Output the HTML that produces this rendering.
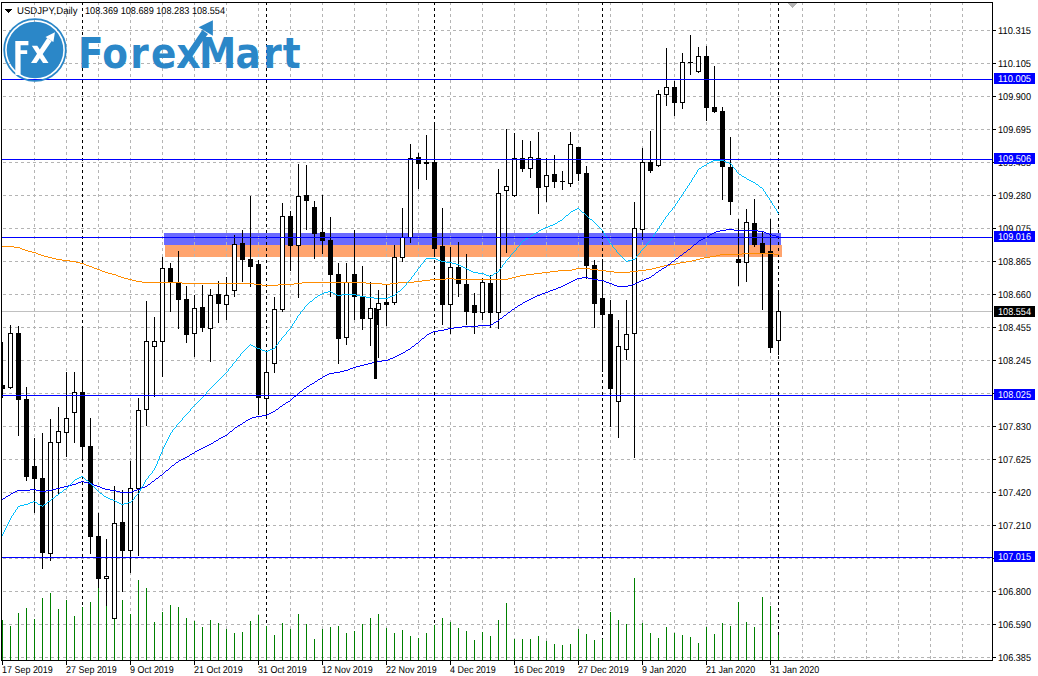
<!DOCTYPE html>
<html><head><meta charset="utf-8"><title>USDJPY Daily</title>
<style>html,body{margin:0;padding:0;background:#fff;overflow:hidden}svg{display:block}</style>
</head><body>
<svg width="1038" height="676" viewBox="0 0 1038 676" shape-rendering="crispEdges">
<rect x="0" y="0" width="1038" height="676" fill="#fff"/>
<rect x="164" y="233" width="617" height="12" fill="#6B6BFF"/>
<rect x="165" y="245" width="617" height="12" fill="#FFA46E"/>
<line x1="3" y1="30.5" x2="991" y2="30.5" stroke="#B4B4B4" stroke-dasharray="3 3"/>
<line x1="3" y1="63.5" x2="991" y2="63.5" stroke="#B4B4B4" stroke-dasharray="3 3"/>
<line x1="3" y1="96.5" x2="991" y2="96.5" stroke="#B4B4B4" stroke-dasharray="3 3"/>
<line x1="3" y1="129.5" x2="991" y2="129.5" stroke="#B4B4B4" stroke-dasharray="3 3"/>
<line x1="3" y1="162.5" x2="991" y2="162.5" stroke="#B4B4B4" stroke-dasharray="3 3"/>
<line x1="3" y1="195.5" x2="991" y2="195.5" stroke="#B4B4B4" stroke-dasharray="3 3"/>
<line x1="3" y1="228.5" x2="991" y2="228.5" stroke="#B4B4B4" stroke-dasharray="3 3"/>
<line x1="3" y1="261.5" x2="991" y2="261.5" stroke="#B4B4B4" stroke-dasharray="3 3"/>
<line x1="3" y1="294.5" x2="991" y2="294.5" stroke="#B4B4B4" stroke-dasharray="3 3"/>
<line x1="3" y1="327.5" x2="991" y2="327.5" stroke="#B4B4B4" stroke-dasharray="3 3"/>
<line x1="3" y1="360.5" x2="991" y2="360.5" stroke="#B4B4B4" stroke-dasharray="3 3"/>
<line x1="3" y1="393.5" x2="991" y2="393.5" stroke="#B4B4B4" stroke-dasharray="3 3"/>
<line x1="3" y1="426.5" x2="991" y2="426.5" stroke="#B4B4B4" stroke-dasharray="3 3"/>
<line x1="3" y1="459.5" x2="991" y2="459.5" stroke="#B4B4B4" stroke-dasharray="3 3"/>
<line x1="3" y1="492.5" x2="991" y2="492.5" stroke="#B4B4B4" stroke-dasharray="3 3"/>
<line x1="3" y1="525.5" x2="991" y2="525.5" stroke="#B4B4B4" stroke-dasharray="3 3"/>
<line x1="3" y1="558.5" x2="991" y2="558.5" stroke="#B4B4B4" stroke-dasharray="3 3"/>
<line x1="3" y1="591.5" x2="991" y2="591.5" stroke="#B4B4B4" stroke-dasharray="3 3"/>
<line x1="3" y1="624.5" x2="991" y2="624.5" stroke="#B4B4B4" stroke-dasharray="3 3"/>
<line x1="3" y1="657.5" x2="991" y2="657.5" stroke="#B4B4B4" stroke-dasharray="3 3"/>
<line x1="34.5" y1="2" x2="34.5" y2="660" stroke="#B4B4B4" stroke-dasharray="3 3"/>
<line x1="66.5" y1="2" x2="66.5" y2="660" stroke="#B4B4B4" stroke-dasharray="3 3"/>
<line x1="98.5" y1="2" x2="98.5" y2="660" stroke="#B4B4B4" stroke-dasharray="3 3"/>
<line x1="130.5" y1="2" x2="130.5" y2="660" stroke="#B4B4B4" stroke-dasharray="3 3"/>
<line x1="162.5" y1="2" x2="162.5" y2="660" stroke="#B4B4B4" stroke-dasharray="3 3"/>
<line x1="194.5" y1="2" x2="194.5" y2="660" stroke="#B4B4B4" stroke-dasharray="3 3"/>
<line x1="226.5" y1="2" x2="226.5" y2="660" stroke="#B4B4B4" stroke-dasharray="3 3"/>
<line x1="258.5" y1="2" x2="258.5" y2="660" stroke="#B4B4B4" stroke-dasharray="3 3"/>
<line x1="290.5" y1="2" x2="290.5" y2="660" stroke="#B4B4B4" stroke-dasharray="3 3"/>
<line x1="322.5" y1="2" x2="322.5" y2="660" stroke="#B4B4B4" stroke-dasharray="3 3"/>
<line x1="354.5" y1="2" x2="354.5" y2="660" stroke="#B4B4B4" stroke-dasharray="3 3"/>
<line x1="386.5" y1="2" x2="386.5" y2="660" stroke="#B4B4B4" stroke-dasharray="3 3"/>
<line x1="418.5" y1="2" x2="418.5" y2="660" stroke="#B4B4B4" stroke-dasharray="3 3"/>
<line x1="450.5" y1="2" x2="450.5" y2="660" stroke="#B4B4B4" stroke-dasharray="3 3"/>
<line x1="482.5" y1="2" x2="482.5" y2="660" stroke="#B4B4B4" stroke-dasharray="3 3"/>
<line x1="514.5" y1="2" x2="514.5" y2="660" stroke="#B4B4B4" stroke-dasharray="3 3"/>
<line x1="546.5" y1="2" x2="546.5" y2="660" stroke="#B4B4B4" stroke-dasharray="3 3"/>
<line x1="578.5" y1="2" x2="578.5" y2="660" stroke="#B4B4B4" stroke-dasharray="3 3"/>
<line x1="610.5" y1="2" x2="610.5" y2="660" stroke="#B4B4B4" stroke-dasharray="3 3"/>
<line x1="642.5" y1="2" x2="642.5" y2="660" stroke="#B4B4B4" stroke-dasharray="3 3"/>
<line x1="674.5" y1="2" x2="674.5" y2="660" stroke="#B4B4B4" stroke-dasharray="3 3"/>
<line x1="706.5" y1="2" x2="706.5" y2="660" stroke="#B4B4B4" stroke-dasharray="3 3"/>
<line x1="738.5" y1="2" x2="738.5" y2="660" stroke="#B4B4B4" stroke-dasharray="3 3"/>
<line x1="770.5" y1="2" x2="770.5" y2="660" stroke="#B4B4B4" stroke-dasharray="3 3"/>
<line x1="802.5" y1="2" x2="802.5" y2="660" stroke="#B4B4B4" stroke-dasharray="3 3"/>
<line x1="834.5" y1="2" x2="834.5" y2="660" stroke="#B4B4B4" stroke-dasharray="3 3"/>
<line x1="866.5" y1="2" x2="866.5" y2="660" stroke="#B4B4B4" stroke-dasharray="3 3"/>
<line x1="898.5" y1="2" x2="898.5" y2="660" stroke="#B4B4B4" stroke-dasharray="3 3"/>
<line x1="930.5" y1="2" x2="930.5" y2="660" stroke="#B4B4B4" stroke-dasharray="3 3"/>
<line x1="962.5" y1="2" x2="962.5" y2="660" stroke="#B4B4B4" stroke-dasharray="3 3"/>
<line x1="82.5" y1="2" x2="82.5" y2="660" stroke="#000" stroke-dasharray="3 3"/>
<line x1="266.5" y1="2" x2="266.5" y2="660" stroke="#000" stroke-dasharray="3 3"/>
<line x1="434.5" y1="2" x2="434.5" y2="660" stroke="#000" stroke-dasharray="3 3"/>
<line x1="602.5" y1="2" x2="602.5" y2="660" stroke="#000" stroke-dasharray="3 3"/>
<line x1="778.5" y1="2" x2="778.5" y2="660" stroke="#000" stroke-dasharray="3 3"/>
<rect x="2" y="311" width="990" height="1" fill="#C0C0C0"/>
<rect x="2" y="620" width="1" height="40" fill="#008000"/>
<rect x="10" y="626" width="1" height="34" fill="#008000"/>
<rect x="18" y="613" width="1" height="47" fill="#008000"/>
<rect x="26" y="608" width="1" height="52" fill="#008000"/>
<rect x="34" y="619" width="1" height="41" fill="#008000"/>
<rect x="42" y="598" width="1" height="62" fill="#008000"/>
<rect x="50" y="593" width="1" height="67" fill="#008000"/>
<rect x="58" y="609" width="1" height="51" fill="#008000"/>
<rect x="66" y="600" width="1" height="60" fill="#008000"/>
<rect x="74" y="616" width="1" height="44" fill="#008000"/>
<rect x="82" y="607" width="1" height="53" fill="#008000"/>
<rect x="90" y="602" width="1" height="58" fill="#008000"/>
<rect x="98" y="587" width="1" height="73" fill="#008000"/>
<rect x="106" y="606" width="1" height="54" fill="#008000"/>
<rect x="114" y="619" width="1" height="41" fill="#008000"/>
<rect x="122" y="600" width="1" height="60" fill="#008000"/>
<rect x="130" y="614" width="1" height="46" fill="#008000"/>
<rect x="138" y="580" width="1" height="80" fill="#008000"/>
<rect x="146" y="588" width="1" height="72" fill="#008000"/>
<rect x="154" y="622" width="1" height="38" fill="#008000"/>
<rect x="162" y="612" width="1" height="48" fill="#008000"/>
<rect x="170" y="605" width="1" height="55" fill="#008000"/>
<rect x="178" y="607" width="1" height="53" fill="#008000"/>
<rect x="186" y="618" width="1" height="42" fill="#008000"/>
<rect x="194" y="621" width="1" height="39" fill="#008000"/>
<rect x="202" y="627" width="1" height="33" fill="#008000"/>
<rect x="210" y="620" width="1" height="40" fill="#008000"/>
<rect x="218" y="623" width="1" height="37" fill="#008000"/>
<rect x="226" y="629" width="1" height="31" fill="#008000"/>
<rect x="234" y="633" width="1" height="27" fill="#008000"/>
<rect x="242" y="632" width="1" height="28" fill="#008000"/>
<rect x="250" y="621" width="1" height="39" fill="#008000"/>
<rect x="258" y="615" width="1" height="45" fill="#008000"/>
<rect x="266" y="626" width="1" height="34" fill="#008000"/>
<rect x="274" y="635" width="1" height="25" fill="#008000"/>
<rect x="282" y="623" width="1" height="37" fill="#008000"/>
<rect x="290" y="629" width="1" height="31" fill="#008000"/>
<rect x="298" y="614" width="1" height="46" fill="#008000"/>
<rect x="306" y="624" width="1" height="36" fill="#008000"/>
<rect x="314" y="639" width="1" height="21" fill="#008000"/>
<rect x="322" y="629" width="1" height="31" fill="#008000"/>
<rect x="330" y="627" width="1" height="33" fill="#008000"/>
<rect x="338" y="626" width="1" height="34" fill="#008000"/>
<rect x="346" y="633" width="1" height="27" fill="#008000"/>
<rect x="354" y="631" width="1" height="29" fill="#008000"/>
<rect x="362" y="624" width="1" height="36" fill="#008000"/>
<rect x="370" y="618" width="1" height="42" fill="#008000"/>
<rect x="378" y="614" width="1" height="46" fill="#008000"/>
<rect x="386" y="628" width="1" height="32" fill="#008000"/>
<rect x="394" y="633" width="1" height="27" fill="#008000"/>
<rect x="402" y="630" width="1" height="30" fill="#008000"/>
<rect x="410" y="636" width="1" height="24" fill="#008000"/>
<rect x="418" y="638" width="1" height="22" fill="#008000"/>
<rect x="426" y="633" width="1" height="27" fill="#008000"/>
<rect x="434" y="625" width="1" height="35" fill="#008000"/>
<rect x="442" y="618" width="1" height="42" fill="#008000"/>
<rect x="450" y="622" width="1" height="38" fill="#008000"/>
<rect x="458" y="628" width="1" height="32" fill="#008000"/>
<rect x="466" y="631" width="1" height="29" fill="#008000"/>
<rect x="474" y="640" width="1" height="20" fill="#008000"/>
<rect x="482" y="632" width="1" height="28" fill="#008000"/>
<rect x="490" y="636" width="1" height="24" fill="#008000"/>
<rect x="498" y="620" width="1" height="40" fill="#008000"/>
<rect x="506" y="603" width="1" height="57" fill="#008000"/>
<rect x="514" y="639" width="1" height="21" fill="#008000"/>
<rect x="522" y="639" width="1" height="21" fill="#008000"/>
<rect x="530" y="639" width="1" height="21" fill="#008000"/>
<rect x="538" y="636" width="1" height="24" fill="#008000"/>
<rect x="546" y="641" width="1" height="19" fill="#008000"/>
<rect x="554" y="644" width="1" height="16" fill="#008000"/>
<rect x="562" y="645" width="1" height="15" fill="#008000"/>
<rect x="570" y="644" width="1" height="16" fill="#008000"/>
<rect x="578" y="629" width="1" height="31" fill="#008000"/>
<rect x="586" y="634" width="1" height="26" fill="#008000"/>
<rect x="594" y="640" width="1" height="20" fill="#008000"/>
<rect x="602" y="639" width="1" height="21" fill="#008000"/>
<rect x="610" y="612" width="1" height="48" fill="#008000"/>
<rect x="618" y="620" width="1" height="40" fill="#008000"/>
<rect x="626" y="624" width="1" height="36" fill="#008000"/>
<rect x="634" y="578" width="1" height="82" fill="#008000"/>
<rect x="642" y="623" width="1" height="37" fill="#008000"/>
<rect x="650" y="633" width="1" height="27" fill="#008000"/>
<rect x="658" y="638" width="1" height="22" fill="#008000"/>
<rect x="666" y="627" width="1" height="33" fill="#008000"/>
<rect x="674" y="633" width="1" height="27" fill="#008000"/>
<rect x="682" y="635" width="1" height="25" fill="#008000"/>
<rect x="690" y="637" width="1" height="23" fill="#008000"/>
<rect x="698" y="643" width="1" height="17" fill="#008000"/>
<rect x="706" y="627" width="1" height="33" fill="#008000"/>
<rect x="714" y="634" width="1" height="26" fill="#008000"/>
<rect x="722" y="623" width="1" height="37" fill="#008000"/>
<rect x="730" y="626" width="1" height="34" fill="#008000"/>
<rect x="738" y="602" width="1" height="58" fill="#008000"/>
<rect x="746" y="622" width="1" height="38" fill="#008000"/>
<rect x="754" y="627" width="1" height="33" fill="#008000"/>
<rect x="762" y="597" width="1" height="63" fill="#008000"/>
<rect x="770" y="606" width="1" height="54" fill="#008000"/>
<rect x="778" y="635" width="1" height="25" fill="#008000"/>
<rect x="2" y="342" width="1" height="56" fill="#000"/>
<rect x="0" y="385" width="5" height="4" fill="#000"/>
<rect x="10" y="325" width="1" height="64" fill="#000"/>
<rect x="8" y="333" width="5" height="55" fill="#000"/>
<rect x="9" y="334" width="3" height="53" fill="#fff"/>
<rect x="18" y="326" width="1" height="110" fill="#000"/>
<rect x="16" y="333" width="5" height="67" fill="#000"/>
<rect x="26" y="387" width="1" height="94" fill="#000"/>
<rect x="24" y="399" width="5" height="78" fill="#000"/>
<rect x="34" y="438" width="1" height="75" fill="#000"/>
<rect x="32" y="466" width="5" height="13" fill="#000"/>
<rect x="42" y="433" width="1" height="136" fill="#000"/>
<rect x="40" y="478" width="5" height="75" fill="#000"/>
<rect x="50" y="419" width="1" height="142" fill="#000"/>
<rect x="48" y="442" width="5" height="112" fill="#000"/>
<rect x="49" y="443" width="3" height="110" fill="#fff"/>
<rect x="58" y="407" width="1" height="87" fill="#000"/>
<rect x="56" y="431" width="5" height="12" fill="#000"/>
<rect x="57" y="432" width="3" height="10" fill="#fff"/>
<rect x="66" y="372" width="1" height="85" fill="#000"/>
<rect x="64" y="418" width="5" height="15" fill="#000"/>
<rect x="65" y="419" width="3" height="13" fill="#fff"/>
<rect x="74" y="372" width="1" height="71" fill="#000"/>
<rect x="72" y="392" width="5" height="21" fill="#000"/>
<rect x="73" y="393" width="3" height="19" fill="#fff"/>
<rect x="82" y="326" width="1" height="135" fill="#000"/>
<rect x="80" y="392" width="5" height="55" fill="#000"/>
<rect x="90" y="418" width="1" height="136" fill="#000"/>
<rect x="88" y="446" width="5" height="91" fill="#000"/>
<rect x="98" y="513" width="1" height="75" fill="#000"/>
<rect x="96" y="536" width="5" height="43" fill="#000"/>
<rect x="106" y="539" width="1" height="67" fill="#000"/>
<rect x="104" y="576" width="5" height="3" fill="#000"/>
<rect x="105" y="577" width="3" height="1" fill="#fff"/>
<rect x="114" y="486" width="1" height="133" fill="#000"/>
<rect x="112" y="523" width="5" height="96" fill="#000"/>
<rect x="113" y="524" width="3" height="94" fill="#fff"/>
<rect x="122" y="490" width="1" height="102" fill="#000"/>
<rect x="120" y="522" width="5" height="29" fill="#000"/>
<rect x="130" y="461" width="1" height="112" fill="#000"/>
<rect x="128" y="488" width="5" height="63" fill="#000"/>
<rect x="129" y="489" width="3" height="61" fill="#fff"/>
<rect x="138" y="398" width="1" height="158" fill="#000"/>
<rect x="136" y="410" width="5" height="79" fill="#000"/>
<rect x="137" y="411" width="3" height="77" fill="#fff"/>
<rect x="146" y="301" width="1" height="125" fill="#000"/>
<rect x="144" y="341" width="5" height="69" fill="#000"/>
<rect x="145" y="342" width="3" height="67" fill="#fff"/>
<rect x="154" y="317" width="1" height="80" fill="#000"/>
<rect x="152" y="341" width="5" height="6" fill="#000"/>
<rect x="153" y="342" width="3" height="4" fill="#fff"/>
<rect x="162" y="257" width="1" height="120" fill="#000"/>
<rect x="160" y="268" width="5" height="74" fill="#000"/>
<rect x="161" y="269" width="3" height="72" fill="#fff"/>
<rect x="170" y="263" width="1" height="49" fill="#000"/>
<rect x="168" y="268" width="5" height="15" fill="#000"/>
<rect x="178" y="251" width="1" height="78" fill="#000"/>
<rect x="176" y="283" width="5" height="17" fill="#000"/>
<rect x="186" y="286" width="1" height="57" fill="#000"/>
<rect x="184" y="299" width="5" height="36" fill="#000"/>
<rect x="194" y="295" width="1" height="62" fill="#000"/>
<rect x="192" y="308" width="5" height="26" fill="#000"/>
<rect x="193" y="309" width="3" height="24" fill="#fff"/>
<rect x="202" y="285" width="1" height="47" fill="#000"/>
<rect x="200" y="307" width="5" height="21" fill="#000"/>
<rect x="210" y="289" width="1" height="73" fill="#000"/>
<rect x="208" y="295" width="5" height="34" fill="#000"/>
<rect x="209" y="296" width="3" height="32" fill="#fff"/>
<rect x="218" y="281" width="1" height="42" fill="#000"/>
<rect x="216" y="294" width="5" height="10" fill="#000"/>
<rect x="226" y="277" width="1" height="43" fill="#000"/>
<rect x="224" y="295" width="5" height="10" fill="#000"/>
<rect x="225" y="296" width="3" height="8" fill="#fff"/>
<rect x="234" y="235" width="1" height="62" fill="#000"/>
<rect x="232" y="244" width="5" height="47" fill="#000"/>
<rect x="233" y="245" width="3" height="45" fill="#fff"/>
<rect x="242" y="230" width="1" height="52" fill="#000"/>
<rect x="240" y="243" width="5" height="17" fill="#000"/>
<rect x="250" y="196" width="1" height="91" fill="#000"/>
<rect x="248" y="259" width="5" height="8" fill="#000"/>
<rect x="258" y="260" width="1" height="155" fill="#000"/>
<rect x="256" y="264" width="5" height="134" fill="#000"/>
<rect x="266" y="351" width="1" height="66" fill="#000"/>
<rect x="264" y="372" width="5" height="27" fill="#000"/>
<rect x="265" y="373" width="3" height="25" fill="#fff"/>
<rect x="274" y="297" width="1" height="76" fill="#000"/>
<rect x="272" y="309" width="5" height="55" fill="#000"/>
<rect x="273" y="310" width="3" height="53" fill="#fff"/>
<rect x="282" y="203" width="1" height="109" fill="#000"/>
<rect x="280" y="216" width="5" height="94" fill="#000"/>
<rect x="281" y="217" width="3" height="92" fill="#fff"/>
<rect x="290" y="211" width="1" height="60" fill="#000"/>
<rect x="288" y="216" width="5" height="30" fill="#000"/>
<rect x="298" y="164" width="1" height="134" fill="#000"/>
<rect x="296" y="196" width="5" height="50" fill="#000"/>
<rect x="297" y="197" width="3" height="48" fill="#fff"/>
<rect x="306" y="165" width="1" height="65" fill="#000"/>
<rect x="304" y="195" width="5" height="6" fill="#000"/>
<rect x="314" y="201" width="1" height="58" fill="#000"/>
<rect x="312" y="207" width="5" height="27" fill="#000"/>
<rect x="322" y="195" width="1" height="59" fill="#000"/>
<rect x="320" y="232" width="5" height="9" fill="#000"/>
<rect x="330" y="217" width="1" height="80" fill="#000"/>
<rect x="328" y="240" width="5" height="35" fill="#000"/>
<rect x="338" y="263" width="1" height="101" fill="#000"/>
<rect x="336" y="274" width="5" height="65" fill="#000"/>
<rect x="346" y="263" width="1" height="82" fill="#000"/>
<rect x="344" y="282" width="5" height="56" fill="#000"/>
<rect x="345" y="283" width="3" height="54" fill="#fff"/>
<rect x="354" y="230" width="1" height="90" fill="#000"/>
<rect x="352" y="274" width="5" height="23" fill="#000"/>
<rect x="362" y="266" width="1" height="64" fill="#000"/>
<rect x="360" y="296" width="5" height="23" fill="#000"/>
<rect x="370" y="282" width="1" height="64" fill="#000"/>
<rect x="368" y="308" width="5" height="11" fill="#000"/>
<rect x="369" y="309" width="3" height="9" fill="#fff"/>
<rect x="378" y="290" width="1" height="68" fill="#000"/>
<rect x="376" y="303" width="5" height="7" fill="#000"/>
<rect x="377" y="304" width="3" height="5" fill="#fff"/>
<rect x="386" y="284" width="1" height="42" fill="#000"/>
<rect x="384" y="302" width="5" height="3" fill="#000"/>
<rect x="394" y="245" width="1" height="60" fill="#000"/>
<rect x="392" y="257" width="5" height="46" fill="#000"/>
<rect x="393" y="258" width="3" height="44" fill="#fff"/>
<rect x="402" y="208" width="1" height="54" fill="#000"/>
<rect x="400" y="237" width="5" height="21" fill="#000"/>
<rect x="401" y="238" width="3" height="19" fill="#fff"/>
<rect x="410" y="144" width="1" height="99" fill="#000"/>
<rect x="408" y="158" width="5" height="80" fill="#000"/>
<rect x="409" y="159" width="3" height="78" fill="#fff"/>
<rect x="418" y="153" width="1" height="36" fill="#000"/>
<rect x="416" y="157" width="5" height="7" fill="#000"/>
<rect x="426" y="135" width="1" height="45" fill="#000"/>
<rect x="424" y="162" width="5" height="2" fill="#000"/>
<rect x="434" y="122" width="1" height="134" fill="#000"/>
<rect x="432" y="162" width="5" height="87" fill="#000"/>
<rect x="442" y="208" width="1" height="117" fill="#000"/>
<rect x="440" y="246" width="5" height="59" fill="#000"/>
<rect x="450" y="247" width="1" height="87" fill="#000"/>
<rect x="448" y="267" width="5" height="38" fill="#000"/>
<rect x="449" y="268" width="3" height="36" fill="#fff"/>
<rect x="458" y="242" width="1" height="55" fill="#000"/>
<rect x="456" y="267" width="5" height="17" fill="#000"/>
<rect x="466" y="254" width="1" height="71" fill="#000"/>
<rect x="464" y="284" width="5" height="28" fill="#000"/>
<rect x="474" y="293" width="1" height="41" fill="#000"/>
<rect x="472" y="305" width="5" height="8" fill="#000"/>
<rect x="482" y="278" width="1" height="42" fill="#000"/>
<rect x="480" y="282" width="5" height="31" fill="#000"/>
<rect x="481" y="283" width="3" height="29" fill="#fff"/>
<rect x="490" y="275" width="1" height="53" fill="#000"/>
<rect x="488" y="283" width="5" height="30" fill="#000"/>
<rect x="498" y="169" width="1" height="160" fill="#000"/>
<rect x="496" y="193" width="5" height="120" fill="#000"/>
<rect x="497" y="194" width="3" height="118" fill="#fff"/>
<rect x="506" y="129" width="1" height="124" fill="#000"/>
<rect x="504" y="186" width="5" height="5" fill="#000"/>
<rect x="505" y="187" width="3" height="3" fill="#fff"/>
<rect x="514" y="133" width="1" height="64" fill="#000"/>
<rect x="512" y="158" width="5" height="38" fill="#000"/>
<rect x="513" y="159" width="3" height="36" fill="#fff"/>
<rect x="522" y="140" width="1" height="32" fill="#000"/>
<rect x="520" y="158" width="5" height="11" fill="#000"/>
<rect x="530" y="141" width="1" height="37" fill="#000"/>
<rect x="528" y="157" width="5" height="12" fill="#000"/>
<rect x="529" y="158" width="3" height="10" fill="#fff"/>
<rect x="538" y="132" width="1" height="82" fill="#000"/>
<rect x="536" y="158" width="5" height="30" fill="#000"/>
<rect x="546" y="158" width="1" height="44" fill="#000"/>
<rect x="544" y="175" width="5" height="12" fill="#000"/>
<rect x="545" y="176" width="3" height="10" fill="#fff"/>
<rect x="554" y="155" width="1" height="33" fill="#000"/>
<rect x="552" y="174" width="5" height="8" fill="#000"/>
<rect x="562" y="171" width="1" height="19" fill="#000"/>
<rect x="560" y="181" width="5" height="1" fill="#000"/>
<rect x="570" y="132" width="1" height="55" fill="#000"/>
<rect x="568" y="144" width="5" height="40" fill="#000"/>
<rect x="569" y="145" width="3" height="38" fill="#fff"/>
<rect x="578" y="147" width="1" height="34" fill="#000"/>
<rect x="576" y="147" width="5" height="27" fill="#000"/>
<rect x="586" y="166" width="1" height="113" fill="#000"/>
<rect x="584" y="173" width="5" height="93" fill="#000"/>
<rect x="594" y="260" width="1" height="68" fill="#000"/>
<rect x="592" y="265" width="5" height="39" fill="#000"/>
<rect x="602" y="259" width="1" height="113" fill="#000"/>
<rect x="600" y="298" width="5" height="17" fill="#000"/>
<rect x="610" y="300" width="1" height="127" fill="#000"/>
<rect x="608" y="314" width="5" height="75" fill="#000"/>
<rect x="618" y="320" width="1" height="118" fill="#000"/>
<rect x="616" y="346" width="5" height="56" fill="#000"/>
<rect x="617" y="347" width="3" height="54" fill="#fff"/>
<rect x="626" y="300" width="1" height="60" fill="#000"/>
<rect x="624" y="334" width="5" height="16" fill="#000"/>
<rect x="625" y="335" width="3" height="14" fill="#fff"/>
<rect x="634" y="202" width="1" height="256" fill="#000"/>
<rect x="632" y="228" width="5" height="106" fill="#000"/>
<rect x="633" y="229" width="3" height="104" fill="#fff"/>
<rect x="642" y="148" width="1" height="92" fill="#000"/>
<rect x="640" y="162" width="5" height="68" fill="#000"/>
<rect x="641" y="163" width="3" height="66" fill="#fff"/>
<rect x="650" y="131" width="1" height="42" fill="#000"/>
<rect x="648" y="162" width="5" height="9" fill="#000"/>
<rect x="658" y="90" width="1" height="77" fill="#000"/>
<rect x="656" y="94" width="5" height="72" fill="#000"/>
<rect x="657" y="95" width="3" height="70" fill="#fff"/>
<rect x="666" y="48" width="1" height="58" fill="#000"/>
<rect x="664" y="87" width="5" height="8" fill="#000"/>
<rect x="665" y="88" width="3" height="6" fill="#fff"/>
<rect x="674" y="81" width="1" height="35" fill="#000"/>
<rect x="672" y="87" width="5" height="16" fill="#000"/>
<rect x="682" y="53" width="1" height="56" fill="#000"/>
<rect x="680" y="62" width="5" height="41" fill="#000"/>
<rect x="681" y="63" width="3" height="39" fill="#fff"/>
<rect x="690" y="35" width="1" height="40" fill="#000"/>
<rect x="688" y="62" width="5" height="1" fill="#000"/>
<rect x="698" y="47" width="1" height="26" fill="#000"/>
<rect x="696" y="56" width="5" height="16" fill="#000"/>
<rect x="697" y="57" width="3" height="14" fill="#fff"/>
<rect x="706" y="46" width="1" height="75" fill="#000"/>
<rect x="704" y="56" width="5" height="52" fill="#000"/>
<rect x="714" y="66" width="1" height="47" fill="#000"/>
<rect x="712" y="107" width="5" height="5" fill="#000"/>
<rect x="722" y="107" width="1" height="93" fill="#000"/>
<rect x="720" y="111" width="5" height="56" fill="#000"/>
<rect x="730" y="137" width="1" height="78" fill="#000"/>
<rect x="728" y="167" width="5" height="35" fill="#000"/>
<rect x="738" y="219" width="1" height="67" fill="#000"/>
<rect x="736" y="259" width="5" height="4" fill="#000"/>
<rect x="746" y="209" width="1" height="73" fill="#000"/>
<rect x="744" y="222" width="5" height="41" fill="#000"/>
<rect x="745" y="223" width="3" height="39" fill="#fff"/>
<rect x="754" y="199" width="1" height="48" fill="#000"/>
<rect x="752" y="223" width="5" height="22" fill="#000"/>
<rect x="762" y="232" width="1" height="78" fill="#000"/>
<rect x="760" y="243" width="5" height="11" fill="#000"/>
<rect x="770" y="219" width="1" height="134" fill="#000"/>
<rect x="768" y="251" width="5" height="97" fill="#000"/>
<rect x="778" y="290" width="1" height="65" fill="#000"/>
<rect x="776" y="311" width="5" height="30" fill="#000"/>
<rect x="777" y="312" width="3" height="28" fill="#fff"/>
<g fill="#FF8C00"><rect x="2" y="246" width="12" height="1"/><rect x="14" y="247" width="6" height="1"/><rect x="20" y="248" width="2" height="1"/><rect x="22" y="249" width="3" height="1"/><rect x="25" y="250" width="3" height="1"/><rect x="28" y="251" width="4" height="1"/><rect x="32" y="252" width="4" height="1"/><rect x="36" y="253" width="2" height="1"/><rect x="742" y="253" width="32" height="1"/><rect x="38" y="254" width="3" height="1"/><rect x="720" y="254" width="22" height="1"/><rect x="774" y="254" width="5" height="1"/><rect x="41" y="255" width="3" height="1"/><rect x="716" y="255" width="4" height="1"/><rect x="44" y="256" width="4" height="1"/><rect x="710" y="256" width="6" height="1"/><rect x="48" y="257" width="4" height="1"/><rect x="704" y="257" width="6" height="1"/><rect x="52" y="258" width="4" height="1"/><rect x="700" y="258" width="4" height="1"/><rect x="56" y="259" width="6" height="1"/><rect x="696" y="259" width="4" height="1"/><rect x="62" y="260" width="8" height="1"/><rect x="692" y="260" width="4" height="1"/><rect x="70" y="261" width="6" height="1"/><rect x="686" y="261" width="6" height="1"/><rect x="76" y="262" width="4" height="1"/><rect x="680" y="262" width="6" height="1"/><rect x="80" y="263" width="4" height="1"/><rect x="676" y="263" width="4" height="1"/><rect x="84" y="264" width="2" height="1"/><rect x="670" y="264" width="6" height="1"/><rect x="86" y="265" width="3" height="1"/><rect x="664" y="265" width="6" height="1"/><rect x="89" y="266" width="3" height="1"/><rect x="660" y="266" width="4" height="1"/><rect x="92" y="267" width="2" height="1"/><rect x="656" y="267" width="4" height="1"/><rect x="94" y="268" width="3" height="1"/><rect x="576" y="268" width="14" height="1"/><rect x="652" y="268" width="4" height="1"/><rect x="97" y="269" width="3" height="1"/><rect x="572" y="269" width="4" height="1"/><rect x="590" y="269" width="8" height="1"/><rect x="646" y="269" width="6" height="1"/><rect x="100" y="270" width="2" height="1"/><rect x="558" y="270" width="14" height="1"/><rect x="598" y="270" width="8" height="1"/><rect x="638" y="270" width="8" height="1"/><rect x="102" y="271" width="3" height="1"/><rect x="550" y="271" width="8" height="1"/><rect x="606" y="271" width="8" height="1"/><rect x="630" y="271" width="8" height="1"/><rect x="105" y="272" width="3" height="1"/><rect x="542" y="272" width="8" height="1"/><rect x="614" y="272" width="16" height="1"/><rect x="108" y="273" width="4" height="1"/><rect x="534" y="273" width="8" height="1"/><rect x="112" y="274" width="4" height="1"/><rect x="526" y="274" width="8" height="1"/><rect x="116" y="275" width="2" height="1"/><rect x="520" y="275" width="6" height="1"/><rect x="118" y="276" width="3" height="1"/><rect x="516" y="276" width="4" height="1"/><rect x="121" y="277" width="3" height="1"/><rect x="512" y="277" width="4" height="1"/><rect x="124" y="278" width="4" height="1"/><rect x="446" y="278" width="8" height="1"/><rect x="508" y="278" width="4" height="1"/><rect x="128" y="279" width="4" height="1"/><rect x="430" y="279" width="16" height="1"/><rect x="454" y="279" width="54" height="1"/><rect x="132" y="280" width="4" height="1"/><rect x="422" y="280" width="8" height="1"/><rect x="136" y="281" width="6" height="1"/><rect x="414" y="281" width="8" height="1"/><rect x="142" y="282" width="40" height="1"/><rect x="302" y="282" width="64" height="1"/><rect x="398" y="282" width="16" height="1"/><rect x="182" y="283" width="72" height="1"/><rect x="294" y="283" width="8" height="1"/><rect x="366" y="283" width="16" height="1"/><rect x="390" y="283" width="8" height="1"/><rect x="254" y="284" width="8" height="1"/><rect x="278" y="284" width="16" height="1"/><rect x="382" y="284" width="8" height="1"/><rect x="262" y="285" width="16" height="1"/></g>
<g fill="#0000FF"><rect x="726" y="229" width="8" height="1"/><rect x="720" y="230" width="6" height="1"/><rect x="734" y="230" width="24" height="1"/><rect x="716" y="231" width="4" height="1"/><rect x="758" y="231" width="6" height="1"/><rect x="714" y="232" width="2" height="1"/><rect x="764" y="232" width="2" height="1"/><rect x="712" y="233" width="2" height="1"/><rect x="766" y="233" width="3" height="1"/><rect x="710" y="234" width="2" height="1"/><rect x="769" y="234" width="3" height="1"/><rect x="709" y="235" width="1" height="1"/><rect x="772" y="235" width="4" height="1"/><rect x="707" y="236" width="2" height="1"/><rect x="776" y="236" width="3" height="1"/><rect x="705" y="237" width="2" height="1"/><rect x="703" y="238" width="2" height="1"/><rect x="701" y="239" width="2" height="1"/><rect x="699" y="240" width="2" height="1"/><rect x="698" y="241" width="1" height="1"/><rect x="697" y="242" width="1" height="1"/><rect x="696" y="243" width="1" height="1"/><rect x="694" y="244" width="2" height="1"/><rect x="693" y="245" width="1" height="1"/><rect x="692" y="246" width="1" height="1"/><rect x="691" y="247" width="1" height="1"/><rect x="690" y="248" width="1" height="1"/><rect x="688" y="249" width="2" height="1"/><rect x="687" y="250" width="1" height="1"/><rect x="686" y="251" width="1" height="1"/><rect x="684" y="252" width="2" height="1"/><rect x="683" y="253" width="1" height="1"/><rect x="682" y="254" width="1" height="1"/><rect x="680" y="255" width="2" height="1"/><rect x="679" y="256" width="1" height="1"/><rect x="678" y="257" width="1" height="1"/><rect x="676" y="258" width="2" height="1"/><rect x="675" y="259" width="1" height="1"/><rect x="674" y="260" width="1" height="1"/><rect x="672" y="261" width="2" height="1"/><rect x="671" y="262" width="1" height="1"/><rect x="670" y="263" width="1" height="1"/><rect x="668" y="264" width="2" height="1"/><rect x="667" y="265" width="1" height="1"/><rect x="666" y="266" width="1" height="1"/><rect x="664" y="267" width="2" height="1"/><rect x="662" y="268" width="2" height="1"/><rect x="661" y="269" width="1" height="1"/><rect x="659" y="270" width="2" height="1"/><rect x="658" y="271" width="1" height="1"/><rect x="656" y="272" width="2" height="1"/><rect x="655" y="273" width="1" height="1"/><rect x="654" y="274" width="1" height="1"/><rect x="652" y="275" width="2" height="1"/><rect x="651" y="276" width="1" height="1"/><rect x="582" y="277" width="6" height="1"/><rect x="649" y="277" width="2" height="1"/><rect x="577" y="278" width="5" height="1"/><rect x="588" y="278" width="4" height="1"/><rect x="646" y="278" width="3" height="1"/><rect x="575" y="279" width="2" height="1"/><rect x="592" y="279" width="6" height="1"/><rect x="644" y="279" width="2" height="1"/><rect x="573" y="280" width="2" height="1"/><rect x="598" y="280" width="6" height="1"/><rect x="641" y="280" width="3" height="1"/><rect x="571" y="281" width="2" height="1"/><rect x="604" y="281" width="2" height="1"/><rect x="639" y="281" width="2" height="1"/><rect x="569" y="282" width="2" height="1"/><rect x="606" y="282" width="3" height="1"/><rect x="637" y="282" width="2" height="1"/><rect x="567" y="283" width="2" height="1"/><rect x="609" y="283" width="3" height="1"/><rect x="635" y="283" width="2" height="1"/><rect x="565" y="284" width="2" height="1"/><rect x="612" y="284" width="2" height="1"/><rect x="632" y="284" width="3" height="1"/><rect x="563" y="285" width="2" height="1"/><rect x="614" y="285" width="3" height="1"/><rect x="628" y="285" width="4" height="1"/><rect x="561" y="286" width="2" height="1"/><rect x="617" y="286" width="11" height="1"/><rect x="558" y="287" width="3" height="1"/><rect x="556" y="288" width="2" height="1"/><rect x="553" y="289" width="3" height="1"/><rect x="550" y="290" width="3" height="1"/><rect x="548" y="291" width="2" height="1"/><rect x="545" y="292" width="3" height="1"/><rect x="542" y="293" width="3" height="1"/><rect x="540" y="294" width="2" height="1"/><rect x="537" y="295" width="3" height="1"/><rect x="535" y="296" width="2" height="1"/><rect x="533" y="297" width="2" height="1"/><rect x="531" y="298" width="2" height="1"/><rect x="529" y="299" width="2" height="1"/><rect x="527" y="300" width="2" height="1"/><rect x="525" y="301" width="2" height="1"/><rect x="523" y="302" width="2" height="1"/><rect x="522" y="303" width="1" height="1"/><rect x="520" y="304" width="2" height="1"/><rect x="518" y="305" width="2" height="1"/><rect x="517" y="306" width="1" height="1"/><rect x="515" y="307" width="2" height="1"/><rect x="514" y="308" width="1" height="1"/><rect x="512" y="309" width="2" height="1"/><rect x="511" y="310" width="1" height="1"/><rect x="510" y="311" width="1" height="1"/><rect x="508" y="312" width="2" height="1"/><rect x="507" y="313" width="1" height="1"/><rect x="506" y="314" width="1" height="1"/><rect x="504" y="315" width="2" height="1"/><rect x="503" y="316" width="1" height="1"/><rect x="502" y="317" width="1" height="1"/><rect x="500" y="318" width="2" height="1"/><rect x="499" y="319" width="1" height="1"/><rect x="498" y="320" width="1" height="1"/><rect x="496" y="321" width="2" height="1"/><rect x="494" y="322" width="2" height="1"/><rect x="493" y="323" width="1" height="1"/><rect x="491" y="324" width="2" height="1"/><rect x="478" y="325" width="13" height="1"/><rect x="462" y="326" width="16" height="1"/><rect x="454" y="327" width="8" height="1"/><rect x="448" y="328" width="6" height="1"/><rect x="444" y="329" width="4" height="1"/><rect x="438" y="330" width="6" height="1"/><rect x="433" y="331" width="5" height="1"/><rect x="431" y="332" width="2" height="1"/><rect x="429" y="333" width="2" height="1"/><rect x="427" y="334" width="2" height="1"/><rect x="426" y="335" width="1" height="1"/><rect x="425" y="336" width="1" height="1"/><rect x="424" y="337" width="1" height="1"/><rect x="422" y="338" width="2" height="1"/><rect x="421" y="339" width="1" height="1"/><rect x="420" y="340" width="1" height="1"/><rect x="419" y="341" width="1" height="1"/><rect x="418" y="342" width="1" height="1"/><rect x="416" y="343" width="2" height="1"/><rect x="415" y="344" width="1" height="1"/><rect x="414" y="345" width="1" height="1"/><rect x="412" y="346" width="2" height="1"/><rect x="411" y="347" width="1" height="1"/><rect x="410" y="348" width="1" height="1"/><rect x="408" y="349" width="2" height="1"/><rect x="406" y="350" width="2" height="1"/><rect x="405" y="351" width="1" height="1"/><rect x="403" y="352" width="2" height="1"/><rect x="401" y="353" width="2" height="1"/><rect x="399" y="354" width="2" height="1"/><rect x="397" y="355" width="2" height="1"/><rect x="395" y="356" width="2" height="1"/><rect x="393" y="357" width="2" height="1"/><rect x="390" y="358" width="3" height="1"/><rect x="388" y="359" width="2" height="1"/><rect x="382" y="360" width="6" height="1"/><rect x="376" y="361" width="6" height="1"/><rect x="372" y="362" width="4" height="1"/><rect x="368" y="363" width="4" height="1"/><rect x="364" y="364" width="4" height="1"/><rect x="360" y="365" width="4" height="1"/><rect x="356" y="366" width="4" height="1"/><rect x="353" y="367" width="3" height="1"/><rect x="350" y="368" width="3" height="1"/><rect x="348" y="369" width="2" height="1"/><rect x="344" y="370" width="4" height="1"/><rect x="340" y="371" width="4" height="1"/><rect x="334" y="372" width="6" height="1"/><rect x="329" y="373" width="5" height="1"/><rect x="327" y="374" width="2" height="1"/><rect x="325" y="375" width="2" height="1"/><rect x="323" y="376" width="2" height="1"/><rect x="322" y="377" width="1" height="1"/><rect x="320" y="378" width="2" height="1"/><rect x="318" y="379" width="2" height="1"/><rect x="317" y="380" width="1" height="1"/><rect x="315" y="381" width="2" height="1"/><rect x="314" y="382" width="1" height="1"/><rect x="312" y="383" width="2" height="1"/><rect x="310" y="384" width="2" height="1"/><rect x="309" y="385" width="1" height="1"/><rect x="307" y="386" width="2" height="1"/><rect x="306" y="387" width="1" height="1"/><rect x="304" y="388" width="2" height="1"/><rect x="303" y="389" width="1" height="1"/><rect x="302" y="390" width="1" height="1"/><rect x="300" y="391" width="2" height="1"/><rect x="299" y="392" width="1" height="1"/><rect x="298" y="393" width="1" height="1"/><rect x="297" y="394" width="1" height="1"/><rect x="296" y="395" width="1" height="1"/><rect x="294" y="396" width="2" height="1"/><rect x="293" y="397" width="1" height="1"/><rect x="292" y="398" width="1" height="1"/><rect x="291" y="399" width="1" height="1"/><rect x="290" y="400" width="1" height="1"/><rect x="288" y="401" width="2" height="1"/><rect x="286" y="402" width="2" height="1"/><rect x="285" y="403" width="1" height="1"/><rect x="283" y="404" width="2" height="1"/><rect x="282" y="405" width="1" height="1"/><rect x="280" y="406" width="2" height="1"/><rect x="279" y="407" width="1" height="1"/><rect x="278" y="408" width="1" height="1"/><rect x="276" y="409" width="2" height="1"/><rect x="275" y="410" width="1" height="1"/><rect x="273" y="411" width="2" height="1"/><rect x="271" y="412" width="2" height="1"/><rect x="269" y="413" width="2" height="1"/><rect x="267" y="414" width="2" height="1"/><rect x="262" y="415" width="5" height="1"/><rect x="256" y="416" width="6" height="1"/><rect x="252" y="417" width="4" height="1"/><rect x="250" y="418" width="2" height="1"/><rect x="248" y="419" width="2" height="1"/><rect x="246" y="420" width="2" height="1"/><rect x="245" y="421" width="1" height="1"/><rect x="243" y="422" width="2" height="1"/><rect x="242" y="423" width="1" height="1"/><rect x="240" y="424" width="2" height="1"/><rect x="238" y="425" width="2" height="1"/><rect x="237" y="426" width="1" height="1"/><rect x="235" y="427" width="2" height="1"/><rect x="234" y="428" width="1" height="1"/><rect x="233" y="429" width="1" height="1"/><rect x="232" y="430" width="1" height="1"/><rect x="230" y="431" width="2" height="1"/><rect x="229" y="432" width="1" height="1"/><rect x="228" y="433" width="1" height="1"/><rect x="227" y="434" width="1" height="1"/><rect x="225" y="435" width="2" height="1"/><rect x="223" y="436" width="2" height="1"/><rect x="221" y="437" width="2" height="1"/><rect x="219" y="438" width="2" height="1"/><rect x="218" y="439" width="1" height="1"/><rect x="216" y="440" width="2" height="1"/><rect x="214" y="441" width="2" height="1"/><rect x="213" y="442" width="1" height="1"/><rect x="211" y="443" width="2" height="1"/><rect x="209" y="444" width="2" height="1"/><rect x="207" y="445" width="2" height="1"/><rect x="205" y="446" width="2" height="1"/><rect x="203" y="447" width="2" height="1"/><rect x="201" y="448" width="2" height="1"/><rect x="199" y="449" width="2" height="1"/><rect x="197" y="450" width="2" height="1"/><rect x="195" y="451" width="2" height="1"/><rect x="194" y="452" width="1" height="1"/><rect x="192" y="453" width="2" height="1"/><rect x="190" y="454" width="2" height="1"/><rect x="189" y="455" width="1" height="1"/><rect x="187" y="456" width="2" height="1"/><rect x="185" y="457" width="2" height="1"/><rect x="183" y="458" width="2" height="1"/><rect x="181" y="459" width="2" height="1"/><rect x="179" y="460" width="2" height="1"/><rect x="178" y="461" width="1" height="1"/><rect x="176" y="462" width="2" height="1"/><rect x="175" y="463" width="1" height="1"/><rect x="174" y="464" width="1" height="1"/><rect x="172" y="465" width="2" height="1"/><rect x="171" y="466" width="1" height="1"/><rect x="170" y="467" width="1" height="1"/><rect x="169" y="468" width="1" height="1"/><rect x="168" y="469" width="1" height="1"/><rect x="166" y="470" width="2" height="1"/><rect x="165" y="471" width="1" height="1"/><rect x="164" y="472" width="1" height="1"/><rect x="163" y="473" width="1" height="1"/><rect x="162" y="474" width="1" height="1"/><rect x="160" y="475" width="2" height="1"/><rect x="159" y="476" width="1" height="1"/><rect x="158" y="477" width="1" height="1"/><rect x="156" y="478" width="2" height="1"/><rect x="155" y="479" width="1" height="1"/><rect x="154" y="480" width="1" height="1"/><rect x="81" y="481" width="3" height="1"/><rect x="152" y="481" width="2" height="1"/><rect x="78" y="482" width="3" height="1"/><rect x="84" y="482" width="4" height="1"/><rect x="151" y="482" width="1" height="1"/><rect x="76" y="483" width="2" height="1"/><rect x="88" y="483" width="4" height="1"/><rect x="150" y="483" width="1" height="1"/><rect x="72" y="484" width="4" height="1"/><rect x="92" y="484" width="2" height="1"/><rect x="148" y="484" width="2" height="1"/><rect x="68" y="485" width="4" height="1"/><rect x="94" y="485" width="3" height="1"/><rect x="147" y="485" width="1" height="1"/><rect x="64" y="486" width="4" height="1"/><rect x="97" y="486" width="3" height="1"/><rect x="145" y="486" width="2" height="1"/><rect x="60" y="487" width="4" height="1"/><rect x="100" y="487" width="2" height="1"/><rect x="142" y="487" width="3" height="1"/><rect x="56" y="488" width="4" height="1"/><rect x="102" y="488" width="3" height="1"/><rect x="140" y="488" width="2" height="1"/><rect x="30" y="489" width="6" height="1"/><rect x="52" y="489" width="4" height="1"/><rect x="105" y="489" width="5" height="1"/><rect x="137" y="489" width="3" height="1"/><rect x="17" y="490" width="13" height="1"/><rect x="36" y="490" width="4" height="1"/><rect x="46" y="490" width="6" height="1"/><rect x="110" y="490" width="6" height="1"/><rect x="134" y="490" width="3" height="1"/><rect x="15" y="491" width="2" height="1"/><rect x="40" y="491" width="6" height="1"/><rect x="116" y="491" width="4" height="1"/><rect x="132" y="491" width="2" height="1"/><rect x="13" y="492" width="2" height="1"/><rect x="120" y="492" width="12" height="1"/><rect x="11" y="493" width="2" height="1"/><rect x="10" y="494" width="1" height="1"/><rect x="8" y="495" width="2" height="1"/><rect x="6" y="496" width="2" height="1"/><rect x="5" y="497" width="1" height="1"/><rect x="3" y="498" width="2" height="1"/><rect x="2" y="499" width="1" height="1"/></g>
<g fill="#00BFFF"><rect x="713" y="160" width="11" height="1"/><rect x="711" y="161" width="2" height="1"/><rect x="724" y="161" width="2" height="1"/><rect x="709" y="162" width="2" height="1"/><rect x="726" y="162" width="3" height="1"/><rect x="707" y="163" width="2" height="1"/><rect x="729" y="163" width="2" height="1"/><rect x="706" y="164" width="1" height="1"/><rect x="731" y="164" width="1" height="1"/><rect x="704" y="165" width="2" height="1"/><rect x="732" y="165" width="1" height="1"/><rect x="702" y="166" width="2" height="1"/><rect x="732" y="166" width="1" height="1"/><rect x="701" y="167" width="1" height="1"/><rect x="733" y="167" width="1" height="1"/><rect x="699" y="168" width="2" height="1"/><rect x="734" y="168" width="1" height="1"/><rect x="698" y="169" width="1" height="1"/><rect x="735" y="169" width="1" height="1"/><rect x="697" y="170" width="1" height="1"/><rect x="736" y="170" width="1" height="1"/><rect x="697" y="171" width="1" height="1"/><rect x="736" y="171" width="1" height="1"/><rect x="696" y="172" width="1" height="1"/><rect x="737" y="172" width="1" height="1"/><rect x="696" y="173" width="1" height="1"/><rect x="738" y="173" width="1" height="1"/><rect x="695" y="174" width="1" height="1"/><rect x="739" y="174" width="2" height="1"/><rect x="694" y="175" width="1" height="1"/><rect x="741" y="175" width="1" height="1"/><rect x="694" y="176" width="1" height="1"/><rect x="742" y="176" width="2" height="1"/><rect x="693" y="177" width="1" height="1"/><rect x="744" y="177" width="2" height="1"/><rect x="692" y="178" width="1" height="1"/><rect x="746" y="178" width="1" height="1"/><rect x="692" y="179" width="1" height="1"/><rect x="747" y="179" width="2" height="1"/><rect x="691" y="180" width="1" height="1"/><rect x="749" y="180" width="2" height="1"/><rect x="691" y="181" width="1" height="1"/><rect x="751" y="181" width="2" height="1"/><rect x="690" y="182" width="1" height="1"/><rect x="753" y="182" width="2" height="1"/><rect x="689" y="183" width="1" height="1"/><rect x="755" y="183" width="1" height="1"/><rect x="689" y="184" width="1" height="1"/><rect x="756" y="184" width="2" height="1"/><rect x="688" y="185" width="1" height="1"/><rect x="758" y="185" width="1" height="1"/><rect x="687" y="186" width="1" height="1"/><rect x="759" y="186" width="1" height="1"/><rect x="687" y="187" width="1" height="1"/><rect x="760" y="187" width="2" height="1"/><rect x="686" y="188" width="1" height="1"/><rect x="762" y="188" width="1" height="1"/><rect x="685" y="189" width="1" height="1"/><rect x="763" y="189" width="1" height="1"/><rect x="685" y="190" width="1" height="1"/><rect x="763" y="190" width="1" height="1"/><rect x="684" y="191" width="1" height="1"/><rect x="764" y="191" width="1" height="1"/><rect x="683" y="192" width="1" height="1"/><rect x="765" y="192" width="1" height="1"/><rect x="683" y="193" width="1" height="1"/><rect x="765" y="193" width="1" height="1"/><rect x="682" y="194" width="1" height="1"/><rect x="766" y="194" width="1" height="1"/><rect x="681" y="195" width="1" height="1"/><rect x="767" y="195" width="1" height="1"/><rect x="681" y="196" width="1" height="1"/><rect x="767" y="196" width="1" height="1"/><rect x="680" y="197" width="1" height="1"/><rect x="768" y="197" width="1" height="1"/><rect x="679" y="198" width="1" height="1"/><rect x="769" y="198" width="1" height="1"/><rect x="679" y="199" width="1" height="1"/><rect x="769" y="199" width="1" height="1"/><rect x="678" y="200" width="1" height="1"/><rect x="770" y="200" width="1" height="1"/><rect x="677" y="201" width="1" height="1"/><rect x="771" y="201" width="1" height="1"/><rect x="677" y="202" width="1" height="1"/><rect x="771" y="202" width="1" height="1"/><rect x="676" y="203" width="1" height="1"/><rect x="772" y="203" width="1" height="1"/><rect x="675" y="204" width="1" height="1"/><rect x="772" y="204" width="1" height="1"/><rect x="675" y="205" width="1" height="1"/><rect x="773" y="205" width="1" height="1"/><rect x="674" y="206" width="1" height="1"/><rect x="774" y="206" width="1" height="1"/><rect x="673" y="207" width="1" height="1"/><rect x="774" y="207" width="1" height="1"/><rect x="577" y="208" width="2" height="1"/><rect x="672" y="208" width="1" height="1"/><rect x="775" y="208" width="1" height="1"/><rect x="575" y="209" width="2" height="1"/><rect x="579" y="209" width="1" height="1"/><rect x="672" y="209" width="1" height="1"/><rect x="776" y="209" width="1" height="1"/><rect x="573" y="210" width="2" height="1"/><rect x="580" y="210" width="1" height="1"/><rect x="671" y="210" width="1" height="1"/><rect x="776" y="210" width="1" height="1"/><rect x="571" y="211" width="2" height="1"/><rect x="581" y="211" width="1" height="1"/><rect x="670" y="211" width="1" height="1"/><rect x="777" y="211" width="1" height="1"/><rect x="570" y="212" width="1" height="1"/><rect x="582" y="212" width="2" height="1"/><rect x="669" y="212" width="1" height="1"/><rect x="777" y="212" width="1" height="1"/><rect x="569" y="213" width="1" height="1"/><rect x="584" y="213" width="1" height="1"/><rect x="668" y="213" width="1" height="1"/><rect x="778" y="213" width="1" height="1"/><rect x="568" y="214" width="1" height="1"/><rect x="585" y="214" width="1" height="1"/><rect x="668" y="214" width="1" height="1"/><rect x="566" y="215" width="2" height="1"/><rect x="586" y="215" width="1" height="1"/><rect x="667" y="215" width="1" height="1"/><rect x="565" y="216" width="1" height="1"/><rect x="587" y="216" width="1" height="1"/><rect x="666" y="216" width="1" height="1"/><rect x="564" y="217" width="1" height="1"/><rect x="588" y="217" width="1" height="1"/><rect x="665" y="217" width="1" height="1"/><rect x="563" y="218" width="1" height="1"/><rect x="589" y="218" width="1" height="1"/><rect x="665" y="218" width="1" height="1"/><rect x="562" y="219" width="1" height="1"/><rect x="590" y="219" width="2" height="1"/><rect x="664" y="219" width="1" height="1"/><rect x="560" y="220" width="2" height="1"/><rect x="592" y="220" width="1" height="1"/><rect x="663" y="220" width="1" height="1"/><rect x="558" y="221" width="2" height="1"/><rect x="593" y="221" width="1" height="1"/><rect x="663" y="221" width="1" height="1"/><rect x="557" y="222" width="1" height="1"/><rect x="594" y="222" width="1" height="1"/><rect x="662" y="222" width="1" height="1"/><rect x="555" y="223" width="2" height="1"/><rect x="595" y="223" width="1" height="1"/><rect x="661" y="223" width="1" height="1"/><rect x="553" y="224" width="2" height="1"/><rect x="596" y="224" width="1" height="1"/><rect x="661" y="224" width="1" height="1"/><rect x="550" y="225" width="3" height="1"/><rect x="597" y="225" width="1" height="1"/><rect x="660" y="225" width="1" height="1"/><rect x="548" y="226" width="2" height="1"/><rect x="598" y="226" width="1" height="1"/><rect x="659" y="226" width="1" height="1"/><rect x="545" y="227" width="3" height="1"/><rect x="599" y="227" width="1" height="1"/><rect x="659" y="227" width="1" height="1"/><rect x="543" y="228" width="2" height="1"/><rect x="600" y="228" width="1" height="1"/><rect x="658" y="228" width="1" height="1"/><rect x="541" y="229" width="2" height="1"/><rect x="601" y="229" width="1" height="1"/><rect x="657" y="229" width="1" height="1"/><rect x="539" y="230" width="2" height="1"/><rect x="602" y="230" width="1" height="1"/><rect x="657" y="230" width="1" height="1"/><rect x="538" y="231" width="1" height="1"/><rect x="603" y="231" width="1" height="1"/><rect x="656" y="231" width="1" height="1"/><rect x="536" y="232" width="2" height="1"/><rect x="603" y="232" width="1" height="1"/><rect x="655" y="232" width="1" height="1"/><rect x="534" y="233" width="2" height="1"/><rect x="604" y="233" width="1" height="1"/><rect x="655" y="233" width="1" height="1"/><rect x="533" y="234" width="1" height="1"/><rect x="604" y="234" width="1" height="1"/><rect x="654" y="234" width="1" height="1"/><rect x="531" y="235" width="2" height="1"/><rect x="605" y="235" width="1" height="1"/><rect x="653" y="235" width="1" height="1"/><rect x="530" y="236" width="1" height="1"/><rect x="606" y="236" width="1" height="1"/><rect x="653" y="236" width="1" height="1"/><rect x="528" y="237" width="2" height="1"/><rect x="606" y="237" width="1" height="1"/><rect x="652" y="237" width="1" height="1"/><rect x="526" y="238" width="2" height="1"/><rect x="607" y="238" width="1" height="1"/><rect x="651" y="238" width="1" height="1"/><rect x="525" y="239" width="1" height="1"/><rect x="608" y="239" width="1" height="1"/><rect x="651" y="239" width="1" height="1"/><rect x="523" y="240" width="2" height="1"/><rect x="608" y="240" width="1" height="1"/><rect x="650" y="240" width="1" height="1"/><rect x="522" y="241" width="1" height="1"/><rect x="609" y="241" width="1" height="1"/><rect x="649" y="241" width="1" height="1"/><rect x="521" y="242" width="1" height="1"/><rect x="609" y="242" width="1" height="1"/><rect x="648" y="242" width="1" height="1"/><rect x="520" y="243" width="1" height="1"/><rect x="610" y="243" width="1" height="1"/><rect x="647" y="243" width="1" height="1"/><rect x="520" y="244" width="1" height="1"/><rect x="611" y="244" width="1" height="1"/><rect x="646" y="244" width="1" height="1"/><rect x="519" y="245" width="1" height="1"/><rect x="612" y="245" width="1" height="1"/><rect x="646" y="245" width="1" height="1"/><rect x="518" y="246" width="1" height="1"/><rect x="612" y="246" width="1" height="1"/><rect x="645" y="246" width="1" height="1"/><rect x="517" y="247" width="1" height="1"/><rect x="613" y="247" width="1" height="1"/><rect x="644" y="247" width="1" height="1"/><rect x="516" y="248" width="1" height="1"/><rect x="614" y="248" width="1" height="1"/><rect x="643" y="248" width="1" height="1"/><rect x="516" y="249" width="1" height="1"/><rect x="615" y="249" width="1" height="1"/><rect x="642" y="249" width="1" height="1"/><rect x="515" y="250" width="1" height="1"/><rect x="616" y="250" width="1" height="1"/><rect x="641" y="250" width="1" height="1"/><rect x="514" y="251" width="1" height="1"/><rect x="616" y="251" width="1" height="1"/><rect x="640" y="251" width="1" height="1"/><rect x="513" y="252" width="1" height="1"/><rect x="617" y="252" width="1" height="1"/><rect x="640" y="252" width="1" height="1"/><rect x="512" y="253" width="1" height="1"/><rect x="618" y="253" width="1" height="1"/><rect x="639" y="253" width="1" height="1"/><rect x="511" y="254" width="1" height="1"/><rect x="619" y="254" width="1" height="1"/><rect x="638" y="254" width="1" height="1"/><rect x="510" y="255" width="1" height="1"/><rect x="620" y="255" width="1" height="1"/><rect x="637" y="255" width="1" height="1"/><rect x="510" y="256" width="1" height="1"/><rect x="621" y="256" width="1" height="1"/><rect x="636" y="256" width="1" height="1"/><rect x="509" y="257" width="1" height="1"/><rect x="622" y="257" width="1" height="1"/><rect x="636" y="257" width="1" height="1"/><rect x="426" y="258" width="10" height="1"/><rect x="508" y="258" width="1" height="1"/><rect x="623" y="258" width="1" height="1"/><rect x="635" y="258" width="1" height="1"/><rect x="425" y="259" width="1" height="1"/><rect x="436" y="259" width="2" height="1"/><rect x="507" y="259" width="1" height="1"/><rect x="624" y="259" width="1" height="1"/><rect x="632" y="259" width="3" height="1"/><rect x="424" y="260" width="1" height="1"/><rect x="438" y="260" width="3" height="1"/><rect x="506" y="260" width="1" height="1"/><rect x="625" y="260" width="1" height="1"/><rect x="628" y="260" width="4" height="1"/><rect x="424" y="261" width="1" height="1"/><rect x="441" y="261" width="5" height="1"/><rect x="505" y="261" width="1" height="1"/><rect x="626" y="261" width="2" height="1"/><rect x="423" y="262" width="1" height="1"/><rect x="446" y="262" width="6" height="1"/><rect x="505" y="262" width="1" height="1"/><rect x="422" y="263" width="1" height="1"/><rect x="452" y="263" width="4" height="1"/><rect x="504" y="263" width="1" height="1"/><rect x="421" y="264" width="1" height="1"/><rect x="456" y="264" width="3" height="1"/><rect x="503" y="264" width="1" height="1"/><rect x="420" y="265" width="1" height="1"/><rect x="459" y="265" width="2" height="1"/><rect x="502" y="265" width="1" height="1"/><rect x="420" y="266" width="1" height="1"/><rect x="461" y="266" width="2" height="1"/><rect x="502" y="266" width="1" height="1"/><rect x="419" y="267" width="1" height="1"/><rect x="463" y="267" width="2" height="1"/><rect x="501" y="267" width="1" height="1"/><rect x="418" y="268" width="1" height="1"/><rect x="465" y="268" width="2" height="1"/><rect x="500" y="268" width="1" height="1"/><rect x="417" y="269" width="1" height="1"/><rect x="467" y="269" width="2" height="1"/><rect x="499" y="269" width="1" height="1"/><rect x="417" y="270" width="1" height="1"/><rect x="469" y="270" width="2" height="1"/><rect x="499" y="270" width="1" height="1"/><rect x="416" y="271" width="1" height="1"/><rect x="471" y="271" width="2" height="1"/><rect x="498" y="271" width="1" height="1"/><rect x="415" y="272" width="1" height="1"/><rect x="473" y="272" width="5" height="1"/><rect x="496" y="272" width="2" height="1"/><rect x="414" y="273" width="1" height="1"/><rect x="478" y="273" width="6" height="1"/><rect x="494" y="273" width="2" height="1"/><rect x="414" y="274" width="1" height="1"/><rect x="484" y="274" width="2" height="1"/><rect x="493" y="274" width="1" height="1"/><rect x="413" y="275" width="1" height="1"/><rect x="486" y="275" width="3" height="1"/><rect x="491" y="275" width="2" height="1"/><rect x="412" y="276" width="1" height="1"/><rect x="489" y="276" width="2" height="1"/><rect x="411" y="277" width="1" height="1"/><rect x="411" y="278" width="1" height="1"/><rect x="410" y="279" width="1" height="1"/><rect x="409" y="280" width="1" height="1"/><rect x="408" y="281" width="1" height="1"/><rect x="407" y="282" width="1" height="1"/><rect x="406" y="283" width="1" height="1"/><rect x="406" y="284" width="1" height="1"/><rect x="405" y="285" width="1" height="1"/><rect x="404" y="286" width="1" height="1"/><rect x="403" y="287" width="1" height="1"/><rect x="402" y="288" width="1" height="1"/><rect x="401" y="289" width="1" height="1"/><rect x="400" y="290" width="1" height="1"/><rect x="328" y="291" width="3" height="1"/><rect x="398" y="291" width="2" height="1"/><rect x="324" y="292" width="4" height="1"/><rect x="331" y="292" width="2" height="1"/><rect x="397" y="292" width="1" height="1"/><rect x="322" y="293" width="2" height="1"/><rect x="333" y="293" width="2" height="1"/><rect x="396" y="293" width="1" height="1"/><rect x="320" y="294" width="2" height="1"/><rect x="335" y="294" width="2" height="1"/><rect x="342" y="294" width="14" height="1"/><rect x="395" y="294" width="1" height="1"/><rect x="318" y="295" width="2" height="1"/><rect x="337" y="295" width="5" height="1"/><rect x="356" y="295" width="4" height="1"/><rect x="393" y="295" width="2" height="1"/><rect x="317" y="296" width="1" height="1"/><rect x="360" y="296" width="6" height="1"/><rect x="390" y="296" width="3" height="1"/><rect x="315" y="297" width="2" height="1"/><rect x="366" y="297" width="8" height="1"/><rect x="388" y="297" width="2" height="1"/><rect x="314" y="298" width="1" height="1"/><rect x="374" y="298" width="14" height="1"/><rect x="313" y="299" width="1" height="1"/><rect x="312" y="300" width="1" height="1"/><rect x="310" y="301" width="2" height="1"/><rect x="309" y="302" width="1" height="1"/><rect x="308" y="303" width="1" height="1"/><rect x="307" y="304" width="1" height="1"/><rect x="306" y="305" width="1" height="1"/><rect x="305" y="306" width="1" height="1"/><rect x="304" y="307" width="1" height="1"/><rect x="304" y="308" width="1" height="1"/><rect x="303" y="309" width="1" height="1"/><rect x="302" y="310" width="1" height="1"/><rect x="301" y="311" width="1" height="1"/><rect x="300" y="312" width="1" height="1"/><rect x="300" y="313" width="1" height="1"/><rect x="299" y="314" width="1" height="1"/><rect x="298" y="315" width="1" height="1"/><rect x="297" y="316" width="1" height="1"/><rect x="297" y="317" width="1" height="1"/><rect x="296" y="318" width="1" height="1"/><rect x="296" y="319" width="1" height="1"/><rect x="295" y="320" width="1" height="1"/><rect x="294" y="321" width="1" height="1"/><rect x="294" y="322" width="1" height="1"/><rect x="293" y="323" width="1" height="1"/><rect x="292" y="324" width="1" height="1"/><rect x="292" y="325" width="1" height="1"/><rect x="291" y="326" width="1" height="1"/><rect x="291" y="327" width="1" height="1"/><rect x="290" y="328" width="1" height="1"/><rect x="289" y="329" width="1" height="1"/><rect x="288" y="330" width="1" height="1"/><rect x="287" y="331" width="1" height="1"/><rect x="286" y="332" width="1" height="1"/><rect x="286" y="333" width="1" height="1"/><rect x="285" y="334" width="1" height="1"/><rect x="284" y="335" width="1" height="1"/><rect x="283" y="336" width="1" height="1"/><rect x="282" y="337" width="1" height="1"/><rect x="281" y="338" width="1" height="1"/><rect x="281" y="339" width="1" height="1"/><rect x="280" y="340" width="1" height="1"/><rect x="279" y="341" width="1" height="1"/><rect x="278" y="342" width="1" height="1"/><rect x="278" y="343" width="1" height="1"/><rect x="250" y="344" width="1" height="1"/><rect x="277" y="344" width="1" height="1"/><rect x="249" y="345" width="1" height="1"/><rect x="251" y="345" width="2" height="1"/><rect x="276" y="345" width="1" height="1"/><rect x="248" y="346" width="1" height="1"/><rect x="253" y="346" width="2" height="1"/><rect x="275" y="346" width="1" height="1"/><rect x="247" y="347" width="1" height="1"/><rect x="255" y="347" width="2" height="1"/><rect x="275" y="347" width="1" height="1"/><rect x="246" y="348" width="1" height="1"/><rect x="257" y="348" width="3" height="1"/><rect x="273" y="348" width="2" height="1"/><rect x="245" y="349" width="1" height="1"/><rect x="260" y="349" width="2" height="1"/><rect x="270" y="349" width="3" height="1"/><rect x="244" y="350" width="1" height="1"/><rect x="262" y="350" width="3" height="1"/><rect x="268" y="350" width="2" height="1"/><rect x="243" y="351" width="1" height="1"/><rect x="265" y="351" width="3" height="1"/><rect x="242" y="352" width="1" height="1"/><rect x="241" y="353" width="1" height="1"/><rect x="240" y="354" width="1" height="1"/><rect x="240" y="355" width="1" height="1"/><rect x="239" y="356" width="1" height="1"/><rect x="238" y="357" width="1" height="1"/><rect x="237" y="358" width="1" height="1"/><rect x="236" y="359" width="1" height="1"/><rect x="236" y="360" width="1" height="1"/><rect x="235" y="361" width="1" height="1"/><rect x="234" y="362" width="1" height="1"/><rect x="233" y="363" width="1" height="1"/><rect x="232" y="364" width="1" height="1"/><rect x="232" y="365" width="1" height="1"/><rect x="231" y="366" width="1" height="1"/><rect x="230" y="367" width="1" height="1"/><rect x="229" y="368" width="1" height="1"/><rect x="228" y="369" width="1" height="1"/><rect x="228" y="370" width="1" height="1"/><rect x="227" y="371" width="1" height="1"/><rect x="226" y="372" width="1" height="1"/><rect x="225" y="373" width="1" height="1"/><rect x="224" y="374" width="1" height="1"/><rect x="223" y="375" width="1" height="1"/><rect x="222" y="376" width="1" height="1"/><rect x="221" y="377" width="1" height="1"/><rect x="220" y="378" width="1" height="1"/><rect x="219" y="379" width="1" height="1"/><rect x="218" y="380" width="1" height="1"/><rect x="217" y="381" width="1" height="1"/><rect x="216" y="382" width="1" height="1"/><rect x="215" y="383" width="1" height="1"/><rect x="214" y="384" width="1" height="1"/><rect x="213" y="385" width="1" height="1"/><rect x="212" y="386" width="1" height="1"/><rect x="211" y="387" width="1" height="1"/><rect x="210" y="388" width="1" height="1"/><rect x="209" y="389" width="1" height="1"/><rect x="208" y="390" width="1" height="1"/><rect x="207" y="391" width="1" height="1"/><rect x="206" y="392" width="1" height="1"/><rect x="206" y="393" width="1" height="1"/><rect x="205" y="394" width="1" height="1"/><rect x="204" y="395" width="1" height="1"/><rect x="203" y="396" width="1" height="1"/><rect x="202" y="397" width="1" height="1"/><rect x="201" y="398" width="1" height="1"/><rect x="200" y="399" width="1" height="1"/><rect x="199" y="400" width="1" height="1"/><rect x="198" y="401" width="1" height="1"/><rect x="197" y="402" width="1" height="1"/><rect x="196" y="403" width="1" height="1"/><rect x="195" y="404" width="1" height="1"/><rect x="194" y="405" width="1" height="1"/><rect x="193" y="406" width="1" height="1"/><rect x="192" y="407" width="1" height="1"/><rect x="191" y="408" width="1" height="1"/><rect x="190" y="409" width="1" height="1"/><rect x="190" y="410" width="1" height="1"/><rect x="189" y="411" width="1" height="1"/><rect x="188" y="412" width="1" height="1"/><rect x="187" y="413" width="1" height="1"/><rect x="186" y="414" width="1" height="1"/><rect x="185" y="415" width="1" height="1"/><rect x="184" y="416" width="1" height="1"/><rect x="183" y="417" width="1" height="1"/><rect x="182" y="418" width="1" height="1"/><rect x="182" y="419" width="1" height="1"/><rect x="181" y="420" width="1" height="1"/><rect x="180" y="421" width="1" height="1"/><rect x="179" y="422" width="1" height="1"/><rect x="178" y="423" width="1" height="1"/><rect x="177" y="424" width="1" height="1"/><rect x="176" y="425" width="1" height="1"/><rect x="176" y="426" width="1" height="1"/><rect x="175" y="427" width="1" height="1"/><rect x="174" y="428" width="1" height="1"/><rect x="173" y="429" width="1" height="1"/><rect x="172" y="430" width="1" height="1"/><rect x="172" y="431" width="1" height="1"/><rect x="171" y="432" width="1" height="1"/><rect x="170" y="433" width="1" height="1"/><rect x="170" y="434" width="1" height="1"/><rect x="169" y="435" width="1" height="1"/><rect x="169" y="436" width="1" height="1"/><rect x="168" y="437" width="1" height="1"/><rect x="168" y="438" width="1" height="1"/><rect x="167" y="439" width="1" height="1"/><rect x="167" y="440" width="1" height="1"/><rect x="166" y="441" width="1" height="1"/><rect x="166" y="442" width="1" height="1"/><rect x="165" y="443" width="1" height="1"/><rect x="165" y="444" width="1" height="1"/><rect x="164" y="445" width="1" height="1"/><rect x="164" y="446" width="1" height="1"/><rect x="163" y="447" width="1" height="1"/><rect x="163" y="448" width="1" height="1"/><rect x="162" y="449" width="1" height="1"/><rect x="162" y="450" width="1" height="1"/><rect x="162" y="451" width="1" height="1"/><rect x="161" y="452" width="1" height="1"/><rect x="161" y="453" width="1" height="1"/><rect x="160" y="454" width="1" height="1"/><rect x="160" y="455" width="1" height="1"/><rect x="159" y="456" width="1" height="1"/><rect x="159" y="457" width="1" height="1"/><rect x="159" y="458" width="1" height="1"/><rect x="158" y="459" width="1" height="1"/><rect x="158" y="460" width="1" height="1"/><rect x="157" y="461" width="1" height="1"/><rect x="157" y="462" width="1" height="1"/><rect x="157" y="463" width="1" height="1"/><rect x="156" y="464" width="1" height="1"/><rect x="156" y="465" width="1" height="1"/><rect x="155" y="466" width="1" height="1"/><rect x="155" y="467" width="1" height="1"/><rect x="154" y="468" width="1" height="1"/><rect x="154" y="469" width="1" height="1"/><rect x="153" y="470" width="1" height="1"/><rect x="152" y="471" width="1" height="1"/><rect x="152" y="472" width="1" height="1"/><rect x="151" y="473" width="1" height="1"/><rect x="150" y="474" width="1" height="1"/><rect x="149" y="475" width="1" height="1"/><rect x="81" y="476" width="2" height="1"/><rect x="148" y="476" width="1" height="1"/><rect x="79" y="477" width="2" height="1"/><rect x="83" y="477" width="1" height="1"/><rect x="148" y="477" width="1" height="1"/><rect x="77" y="478" width="2" height="1"/><rect x="84" y="478" width="1" height="1"/><rect x="147" y="478" width="1" height="1"/><rect x="75" y="479" width="2" height="1"/><rect x="85" y="479" width="1" height="1"/><rect x="146" y="479" width="1" height="1"/><rect x="74" y="480" width="1" height="1"/><rect x="86" y="480" width="2" height="1"/><rect x="145" y="480" width="1" height="1"/><rect x="73" y="481" width="1" height="1"/><rect x="88" y="481" width="1" height="1"/><rect x="145" y="481" width="1" height="1"/><rect x="72" y="482" width="1" height="1"/><rect x="89" y="482" width="1" height="1"/><rect x="144" y="482" width="1" height="1"/><rect x="71" y="483" width="1" height="1"/><rect x="90" y="483" width="1" height="1"/><rect x="144" y="483" width="1" height="1"/><rect x="70" y="484" width="1" height="1"/><rect x="91" y="484" width="1" height="1"/><rect x="143" y="484" width="1" height="1"/><rect x="69" y="485" width="1" height="1"/><rect x="92" y="485" width="1" height="1"/><rect x="143" y="485" width="1" height="1"/><rect x="68" y="486" width="1" height="1"/><rect x="93" y="486" width="1" height="1"/><rect x="142" y="486" width="1" height="1"/><rect x="67" y="487" width="1" height="1"/><rect x="94" y="487" width="1" height="1"/><rect x="141" y="487" width="1" height="1"/><rect x="66" y="488" width="1" height="1"/><rect x="95" y="488" width="1" height="1"/><rect x="141" y="488" width="1" height="1"/><rect x="64" y="489" width="2" height="1"/><rect x="96" y="489" width="1" height="1"/><rect x="140" y="489" width="1" height="1"/><rect x="63" y="490" width="1" height="1"/><rect x="97" y="490" width="1" height="1"/><rect x="140" y="490" width="1" height="1"/><rect x="62" y="491" width="1" height="1"/><rect x="98" y="491" width="1" height="1"/><rect x="139" y="491" width="1" height="1"/><rect x="60" y="492" width="2" height="1"/><rect x="99" y="492" width="1" height="1"/><rect x="139" y="492" width="1" height="1"/><rect x="59" y="493" width="1" height="1"/><rect x="100" y="493" width="2" height="1"/><rect x="138" y="493" width="1" height="1"/><rect x="58" y="494" width="1" height="1"/><rect x="102" y="494" width="1" height="1"/><rect x="137" y="494" width="1" height="1"/><rect x="56" y="495" width="2" height="1"/><rect x="103" y="495" width="1" height="1"/><rect x="136" y="495" width="1" height="1"/><rect x="55" y="496" width="1" height="1"/><rect x="104" y="496" width="2" height="1"/><rect x="135" y="496" width="1" height="1"/><rect x="54" y="497" width="1" height="1"/><rect x="106" y="497" width="2" height="1"/><rect x="134" y="497" width="1" height="1"/><rect x="52" y="498" width="2" height="1"/><rect x="108" y="498" width="2" height="1"/><rect x="134" y="498" width="1" height="1"/><rect x="51" y="499" width="1" height="1"/><rect x="110" y="499" width="3" height="1"/><rect x="133" y="499" width="1" height="1"/><rect x="50" y="500" width="1" height="1"/><rect x="113" y="500" width="2" height="1"/><rect x="132" y="500" width="1" height="1"/><rect x="33" y="501" width="2" height="1"/><rect x="48" y="501" width="2" height="1"/><rect x="115" y="501" width="2" height="1"/><rect x="131" y="501" width="1" height="1"/><rect x="30" y="502" width="3" height="1"/><rect x="35" y="502" width="2" height="1"/><rect x="47" y="502" width="1" height="1"/><rect x="117" y="502" width="2" height="1"/><rect x="128" y="502" width="3" height="1"/><rect x="28" y="503" width="2" height="1"/><rect x="37" y="503" width="1" height="1"/><rect x="46" y="503" width="1" height="1"/><rect x="119" y="503" width="2" height="1"/><rect x="124" y="503" width="4" height="1"/><rect x="24" y="504" width="4" height="1"/><rect x="38" y="504" width="2" height="1"/><rect x="44" y="504" width="2" height="1"/><rect x="121" y="504" width="3" height="1"/><rect x="20" y="505" width="4" height="1"/><rect x="40" y="505" width="2" height="1"/><rect x="43" y="505" width="1" height="1"/><rect x="18" y="506" width="2" height="1"/><rect x="42" y="506" width="1" height="1"/><rect x="17" y="507" width="1" height="1"/><rect x="17" y="508" width="1" height="1"/><rect x="16" y="509" width="1" height="1"/><rect x="15" y="510" width="1" height="1"/><rect x="15" y="511" width="1" height="1"/><rect x="14" y="512" width="1" height="1"/><rect x="13" y="513" width="1" height="1"/><rect x="13" y="514" width="1" height="1"/><rect x="12" y="515" width="1" height="1"/><rect x="11" y="516" width="1" height="1"/><rect x="11" y="517" width="1" height="1"/><rect x="10" y="518" width="1" height="1"/><rect x="10" y="519" width="1" height="1"/><rect x="9" y="520" width="1" height="1"/><rect x="9" y="521" width="1" height="1"/><rect x="8" y="522" width="1" height="1"/><rect x="8" y="523" width="1" height="1"/><rect x="7" y="524" width="1" height="1"/><rect x="7" y="525" width="1" height="1"/><rect x="6" y="526" width="1" height="1"/><rect x="6" y="527" width="1" height="1"/><rect x="5" y="528" width="1" height="1"/><rect x="5" y="529" width="1" height="1"/><rect x="4" y="530" width="1" height="1"/><rect x="4" y="531" width="1" height="1"/><rect x="3" y="532" width="1" height="1"/><rect x="3" y="533" width="1" height="1"/><rect x="2" y="534" width="1" height="1"/><rect x="2" y="535" width="1" height="1"/></g>
<rect x="374" y="308" width="4" height="17" fill="#000"/><rect x="374" y="325" width="3" height="54" fill="#000"/>
<rect x="378" y="290" width="1" height="68" fill="#000"/><rect x="376" y="303" width="5" height="7" fill="#000"/><rect x="377" y="304" width="3" height="5" fill="#fff"/>
<rect x="2" y="79" width="990" height="1" fill="#0000FF"/>
<rect x="2" y="159" width="990" height="1" fill="#0000FF"/>
<rect x="2" y="237" width="990" height="1" fill="#0000FF"/>
<rect x="2" y="395" width="990" height="1" fill="#0000FF"/>
<rect x="2" y="557" width="990" height="1" fill="#0000FF"/>
<g shape-rendering="geometricPrecision">
<circle cx="35" cy="50" r="30.8" fill="none" stroke="#2B87C8" stroke-width="1.8"/>
<circle cx="35" cy="50" r="28.3" fill="#2B87C8"/>
<path d="M15.3,41 H28.4 V45.2 H20.6 V50.2 H27.2 V54 H20.6 V75 H15.3 Z" fill="#fff"/>
<path d="M31.8,45.8 L37.3,45.8 L48.5,63 L43,63 Z" fill="#fff"/>
<path d="M31,63 L36.5,63 L51.7,41.1 L47.3,38 Z" fill="#fff"/>
<path d="M45.5,37 L54.9,32.3 L53.4,42 Z" fill="#fff"/>
<text transform="scale(0.88,1)" x="88.73 116.08 148.03 171.5 200.5 226.02 267.67 299.16 321.3" y="67.6" font-family="DejaVu Sans, sans-serif" font-weight="bold" font-size="42.5" fill="#2B87C8">ForexMart</text>
<path d="M177,67.6 L183.1,67.6 L208,34.1 L202.3,30 Z" fill="#2B87C8"/>
<path d="M198.6,27.2 L212.9,20.3 L212.9,35.8 Z" fill="#2B87C8"/>
</g>
<rect x="0" y="0" width="1" height="676" fill="#fff"/>
<rect x="1" y="2" width="992" height="1" fill="#000"/>
<rect x="1" y="2" width="1" height="659" fill="#000"/>
<rect x="1" y="660" width="992" height="1" fill="#000"/>
<rect x="992" y="2" width="1" height="659" fill="#000"/>
<rect x="993" y="30" width="3" height="1" fill="#000"/>
<text x="998" y="34" font-family="Liberation Sans, sans-serif" text-rendering="geometricPrecision" font-size="10" fill="#000" textLength="33" lengthAdjust="spacingAndGlyphs">110.315</text>
<rect x="993" y="63" width="3" height="1" fill="#000"/>
<text x="998" y="67" font-family="Liberation Sans, sans-serif" text-rendering="geometricPrecision" font-size="10" fill="#000" textLength="33" lengthAdjust="spacingAndGlyphs">110.105</text>
<rect x="993" y="96" width="3" height="1" fill="#000"/>
<text x="998" y="100" font-family="Liberation Sans, sans-serif" text-rendering="geometricPrecision" font-size="10" fill="#000" textLength="33" lengthAdjust="spacingAndGlyphs">109.900</text>
<rect x="993" y="129" width="3" height="1" fill="#000"/>
<text x="998" y="133" font-family="Liberation Sans, sans-serif" text-rendering="geometricPrecision" font-size="10" fill="#000" textLength="33" lengthAdjust="spacingAndGlyphs">109.695</text>
<rect x="993" y="162" width="3" height="1" fill="#000"/>
<text x="998" y="166" font-family="Liberation Sans, sans-serif" text-rendering="geometricPrecision" font-size="10" fill="#000" textLength="33" lengthAdjust="spacingAndGlyphs">109.485</text>
<rect x="993" y="195" width="3" height="1" fill="#000"/>
<text x="998" y="199" font-family="Liberation Sans, sans-serif" text-rendering="geometricPrecision" font-size="10" fill="#000" textLength="33" lengthAdjust="spacingAndGlyphs">109.280</text>
<rect x="993" y="228" width="3" height="1" fill="#000"/>
<text x="998" y="232" font-family="Liberation Sans, sans-serif" text-rendering="geometricPrecision" font-size="10" fill="#000" textLength="33" lengthAdjust="spacingAndGlyphs">109.075</text>
<rect x="993" y="261" width="3" height="1" fill="#000"/>
<text x="998" y="265" font-family="Liberation Sans, sans-serif" text-rendering="geometricPrecision" font-size="10" fill="#000" textLength="33" lengthAdjust="spacingAndGlyphs">108.865</text>
<rect x="993" y="294" width="3" height="1" fill="#000"/>
<text x="998" y="298" font-family="Liberation Sans, sans-serif" text-rendering="geometricPrecision" font-size="10" fill="#000" textLength="33" lengthAdjust="spacingAndGlyphs">108.660</text>
<rect x="993" y="327" width="3" height="1" fill="#000"/>
<text x="998" y="331" font-family="Liberation Sans, sans-serif" text-rendering="geometricPrecision" font-size="10" fill="#000" textLength="33" lengthAdjust="spacingAndGlyphs">108.455</text>
<rect x="993" y="360" width="3" height="1" fill="#000"/>
<text x="998" y="364" font-family="Liberation Sans, sans-serif" text-rendering="geometricPrecision" font-size="10" fill="#000" textLength="33" lengthAdjust="spacingAndGlyphs">108.245</text>
<rect x="993" y="393" width="3" height="1" fill="#000"/>
<text x="998" y="397" font-family="Liberation Sans, sans-serif" text-rendering="geometricPrecision" font-size="10" fill="#000" textLength="33" lengthAdjust="spacingAndGlyphs">108.040</text>
<rect x="993" y="426" width="3" height="1" fill="#000"/>
<text x="998" y="430" font-family="Liberation Sans, sans-serif" text-rendering="geometricPrecision" font-size="10" fill="#000" textLength="33" lengthAdjust="spacingAndGlyphs">107.830</text>
<rect x="993" y="459" width="3" height="1" fill="#000"/>
<text x="998" y="463" font-family="Liberation Sans, sans-serif" text-rendering="geometricPrecision" font-size="10" fill="#000" textLength="33" lengthAdjust="spacingAndGlyphs">107.625</text>
<rect x="993" y="492" width="3" height="1" fill="#000"/>
<text x="998" y="496" font-family="Liberation Sans, sans-serif" text-rendering="geometricPrecision" font-size="10" fill="#000" textLength="33" lengthAdjust="spacingAndGlyphs">107.420</text>
<rect x="993" y="525" width="3" height="1" fill="#000"/>
<text x="998" y="529" font-family="Liberation Sans, sans-serif" text-rendering="geometricPrecision" font-size="10" fill="#000" textLength="33" lengthAdjust="spacingAndGlyphs">107.210</text>
<rect x="993" y="558" width="3" height="1" fill="#000"/>
<text x="998" y="562" font-family="Liberation Sans, sans-serif" text-rendering="geometricPrecision" font-size="10" fill="#000" textLength="33" lengthAdjust="spacingAndGlyphs">107.005</text>
<rect x="993" y="591" width="3" height="1" fill="#000"/>
<text x="998" y="595" font-family="Liberation Sans, sans-serif" text-rendering="geometricPrecision" font-size="10" fill="#000" textLength="33" lengthAdjust="spacingAndGlyphs">106.800</text>
<rect x="993" y="624" width="3" height="1" fill="#000"/>
<text x="998" y="628" font-family="Liberation Sans, sans-serif" text-rendering="geometricPrecision" font-size="10" fill="#000" textLength="33" lengthAdjust="spacingAndGlyphs">106.590</text>
<rect x="993" y="657" width="3" height="1" fill="#000"/>
<text x="998" y="661" font-family="Liberation Sans, sans-serif" text-rendering="geometricPrecision" font-size="10" fill="#000" textLength="33" lengthAdjust="spacingAndGlyphs">106.385</text>
<rect x="994" y="73" width="41" height="11" fill="#0000FF"/>
<text x="998" y="82" font-family="Liberation Sans, sans-serif" text-rendering="geometricPrecision" font-size="10" fill="#fff" textLength="33" lengthAdjust="spacingAndGlyphs">110.005</text>
<rect x="994" y="153" width="41" height="11" fill="#0000FF"/>
<text x="998" y="162" font-family="Liberation Sans, sans-serif" text-rendering="geometricPrecision" font-size="10" fill="#fff" textLength="33" lengthAdjust="spacingAndGlyphs">109.506</text>
<rect x="994" y="231" width="41" height="11" fill="#0000FF"/>
<text x="998" y="240" font-family="Liberation Sans, sans-serif" text-rendering="geometricPrecision" font-size="10" fill="#fff" textLength="33" lengthAdjust="spacingAndGlyphs">109.016</text>
<rect x="994" y="306" width="41" height="11" fill="#000000"/>
<text x="998" y="315" font-family="Liberation Sans, sans-serif" text-rendering="geometricPrecision" font-size="10" fill="#fff" textLength="33" lengthAdjust="spacingAndGlyphs">108.554</text>
<rect x="994" y="389" width="41" height="11" fill="#0000FF"/>
<text x="998" y="398" font-family="Liberation Sans, sans-serif" text-rendering="geometricPrecision" font-size="10" fill="#fff" textLength="33" lengthAdjust="spacingAndGlyphs">108.025</text>
<rect x="994" y="551" width="41" height="11" fill="#0000FF"/>
<text x="998" y="560" font-family="Liberation Sans, sans-serif" text-rendering="geometricPrecision" font-size="10" fill="#fff" textLength="33" lengthAdjust="spacingAndGlyphs">107.015</text>
<rect x="2" y="661" width="1" height="4" fill="#000"/>
<text x="2" y="673" font-family="Liberation Sans, sans-serif" text-rendering="geometricPrecision" font-size="10" fill="#000" textLength="50.8" lengthAdjust="spacingAndGlyphs">17 Sep 2019</text>
<rect x="66" y="661" width="1" height="4" fill="#000"/>
<text x="66" y="673" font-family="Liberation Sans, sans-serif" text-rendering="geometricPrecision" font-size="10" fill="#000" textLength="50.8" lengthAdjust="spacingAndGlyphs">27 Sep 2019</text>
<rect x="130" y="661" width="1" height="4" fill="#000"/>
<text x="130" y="673" font-family="Liberation Sans, sans-serif" text-rendering="geometricPrecision" font-size="10" fill="#000" textLength="43.8" lengthAdjust="spacingAndGlyphs">9 Oct 2019</text>
<rect x="194" y="661" width="1" height="4" fill="#000"/>
<text x="194" y="673" font-family="Liberation Sans, sans-serif" text-rendering="geometricPrecision" font-size="10" fill="#000" textLength="48.8" lengthAdjust="spacingAndGlyphs">21 Oct 2019</text>
<rect x="258" y="661" width="1" height="4" fill="#000"/>
<text x="258" y="673" font-family="Liberation Sans, sans-serif" text-rendering="geometricPrecision" font-size="10" fill="#000" textLength="48.8" lengthAdjust="spacingAndGlyphs">31 Oct 2019</text>
<rect x="322" y="661" width="1" height="4" fill="#000"/>
<text x="322" y="673" font-family="Liberation Sans, sans-serif" text-rendering="geometricPrecision" font-size="10" fill="#000" textLength="50.8" lengthAdjust="spacingAndGlyphs">12 Nov 2019</text>
<rect x="386" y="661" width="1" height="4" fill="#000"/>
<text x="386" y="673" font-family="Liberation Sans, sans-serif" text-rendering="geometricPrecision" font-size="10" fill="#000" textLength="50.8" lengthAdjust="spacingAndGlyphs">22 Nov 2019</text>
<rect x="450" y="661" width="1" height="4" fill="#000"/>
<text x="450" y="673" font-family="Liberation Sans, sans-serif" text-rendering="geometricPrecision" font-size="10" fill="#000" textLength="45.8" lengthAdjust="spacingAndGlyphs">4 Dec 2019</text>
<rect x="514" y="661" width="1" height="4" fill="#000"/>
<text x="514" y="673" font-family="Liberation Sans, sans-serif" text-rendering="geometricPrecision" font-size="10" fill="#000" textLength="50.8" lengthAdjust="spacingAndGlyphs">16 Dec 2019</text>
<rect x="578" y="661" width="1" height="4" fill="#000"/>
<text x="578" y="673" font-family="Liberation Sans, sans-serif" text-rendering="geometricPrecision" font-size="10" fill="#000" textLength="50.8" lengthAdjust="spacingAndGlyphs">27 Dec 2019</text>
<rect x="642" y="661" width="1" height="4" fill="#000"/>
<text x="642" y="673" font-family="Liberation Sans, sans-serif" text-rendering="geometricPrecision" font-size="10" fill="#000" textLength="44.3" lengthAdjust="spacingAndGlyphs">9 Jan 2020</text>
<rect x="706" y="661" width="1" height="4" fill="#000"/>
<text x="706" y="673" font-family="Liberation Sans, sans-serif" text-rendering="geometricPrecision" font-size="10" fill="#000" textLength="49.3" lengthAdjust="spacingAndGlyphs">21 Jan 2020</text>
<rect x="770" y="661" width="1" height="4" fill="#000"/>
<text x="770" y="673" font-family="Liberation Sans, sans-serif" text-rendering="geometricPrecision" font-size="10" fill="#000" textLength="49.3" lengthAdjust="spacingAndGlyphs">31 Jan 2020</text>
<g fill="#000"><rect x="5" y="9" width="7" height="1"/><rect x="6" y="10" width="5" height="1"/><rect x="7" y="11" width="3" height="1"/><rect x="8" y="12" width="1" height="1"/></g>
<text x="17" y="14" font-family="Liberation Sans, sans-serif" text-rendering="geometricPrecision" font-size="10" fill="#000" textLength="60.5" lengthAdjust="spacingAndGlyphs">USDJPY,Daily</text>
<text x="85" y="14" font-family="Liberation Sans, sans-serif" text-rendering="geometricPrecision" font-size="10" fill="#000" textLength="140" lengthAdjust="spacingAndGlyphs">108.369 108.689 108.283 108.554</text>
<g fill="#B4B4B4"><rect x="788" y="3" width="9" height="1"/><rect x="789" y="4" width="7" height="1"/><rect x="790" y="5" width="5" height="1"/><rect x="791" y="6" width="3" height="1"/><rect x="792" y="7" width="1" height="1"/></g>
</svg>
</body></html>
